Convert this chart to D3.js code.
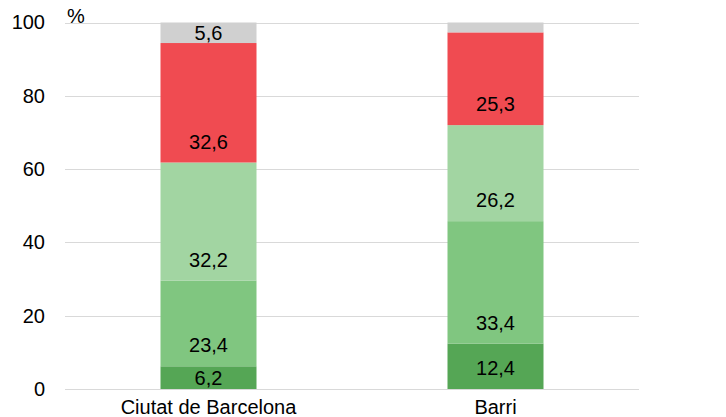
<!DOCTYPE html>
<html>
<head>
<meta charset="utf-8">
<script src="https://cdn.jsdelivr.net/npm/d3@7"></script>
<style>
  body { margin: 0; background: #fff; }
  text { font-family: "Liberation Sans", Arial, sans-serif; }
</style>
</head>
<body>
<div id="grafic"></div>
<script>
// dades
const categories = ["Ciutat de Barcelona", "Barri"];
const series = ["s1", "s2", "s3", "s4", "s5"];
const valorsCiutat = [6.2, 23.4, 32.2, 32.6, 5.6];
const valorsBarri = [12.4, 33.4, 26.2, 25.3, 2.7];
const etiquetesCiutat = ["6,2", "23,4", "32,2", "32,6", "5,6"];
const etiquetesBarri = ["12,4", "33,4", "26,2", "25,3", ""];
const ticksY = [0, 20, 40, 60, 80, 100];
const colors = ["#55a655", "#80c680", "#a2d5a2", "#f04b51", "#d0d0d0"];

const width = 726, height = 417;
const marginLeft = 65, marginRight = 87, marginTop = 22.5, marginBottom = 28;
const fontSize = 20;

const files = categories.map((c, i) => {
    const vals = i === 0 ? valorsCiutat : valorsBarri;
    const obj = {categoria: c};
    series.forEach((s, j) => obj[s] = vals[j]);
    return obj;
});
const etiquetes = [etiquetesCiutat, etiquetesBarri];

const stack = d3.stack().keys(series)(files);

const x = d3.scaleBand()
    .domain(categories)
    .range([marginLeft, width - marginRight])
    .paddingInner(0)
    .paddingOuter(0);

const barW = 96;

const y = d3.scaleLinear()
    .domain([0, 100])
    .range([height - marginBottom, marginTop]);

const color = d3.scaleOrdinal().domain(series).range(colors);

const svg = d3.select("#grafic")
    .append("svg")
    .attr("width", width)
    .attr("height", height)
    .attr("viewBox", [0, 0, width, height]);

// graella
svg.append("g")
    .selectAll("line")
    .data(ticksY)
    .join("line")
    .attr("x1", marginLeft)
    .attr("x2", width - marginRight)
    .attr("y1", d => Math.round(y(d)) + 0.5)
    .attr("y2", d => Math.round(y(d)) + 0.5)
    .attr("stroke", "#d9d9d9")
    .attr("stroke-width", 1);

// eix Y
const eixY = d3.axisLeft(y).tickValues(ticksY).tickSize(0).tickPadding(0);
svg.append("g")
    .attr("transform", `translate(45,0)`)
    .call(eixY)
    .call(g => g.select(".domain").remove())
    .selectAll("text")
    .attr("font-size", fontSize)
    .attr("fill", "#000")
    .attr("font-family", "Liberation Sans, Arial, sans-serif");

svg.append("text")
    .attr("x", 67)
    .attr("y", 23)
    .attr("font-size", fontSize)
    .text("%");

// barres
const grups = svg.append("g")
    .selectAll("g")
    .data(stack)
    .join("g")
    .attr("fill", d => color(d.key));

grups.selectAll("rect")
    .data(d => d)
    .join("rect")
    .attr("x", d => x(d.data.categoria) + x.bandwidth() / 2 - barW / 2)
    .attr("y", d => y(d[1]))
    .attr("height", d => y(d[0]) - y(d[1]))
    .attr("width", barW);

// etiquetes de dades
stack.forEach((s, j) => {
    s.forEach((d, i) => {
        const txt = etiquetes[i][j];
        if (!txt) return;
        const base = y(d[0]);
        const mig = (y(d[0]) + y(d[1])) / 2;
        const ly = Math.max(base - 21, mig);
        svg.append("text")
            .attr("x", x(d.data.categoria) + x.bandwidth() / 2)
            .attr("y", ly)
            .attr("dy", "0.35em")
            .attr("text-anchor", "middle")
            .attr("font-size", fontSize)
            .attr("fill", "#000")
            .text(txt);
    });
});

// eix X
svg.append("g")
    .selectAll("text")
    .data(categories)
    .join("text")
    .attr("x", d => x(d) + x.bandwidth() / 2)
    .attr("y", 407)
    .attr("dy", "0.35em")
    .attr("text-anchor", "middle")
    .attr("font-size", fontSize)
    .attr("fill", "#000")
    .text(d => d);
</script>
</body>
</html>
